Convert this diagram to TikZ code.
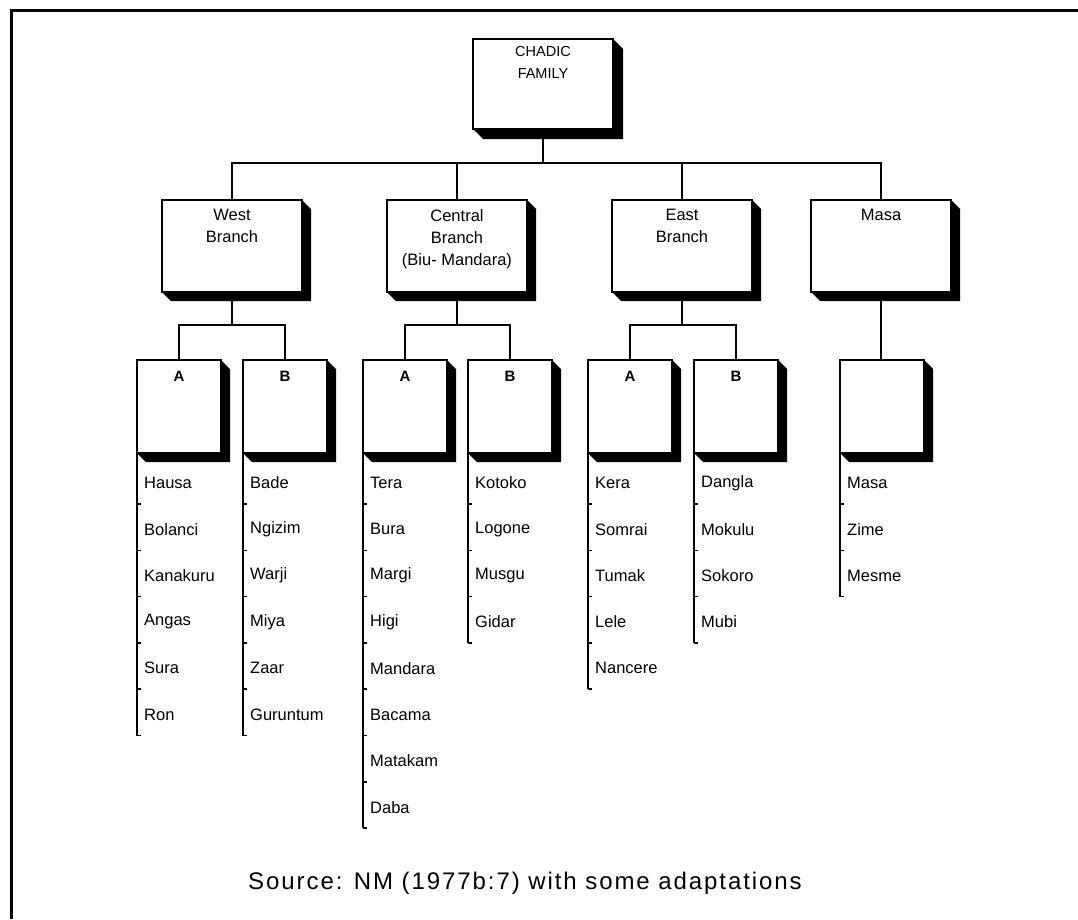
\documentclass[tikz,border=0pt]{standalone}
\usepackage{fontspec}
\setmainfont{Liberation Sans}
\newfontfamily\srcfont[LetterSpace=8]{Liberation Sans}
\usetikzlibrary{calc}
\newcommand\shad[2]{\fill (#1.north east) -- ($(#1.north east)+(#2,#2)$) -- ($(#1.south east)+(#2,#2)$) -- ($(#1.south west)+(#2,#2)$) -- (#1.south west) -- (#1.south east) -- cycle;}
\newcommand\langlist[3]{%
  \foreach \t [count=\i] in {#3} {
    \node[item] (#2\i) at ($(#1.south west)+(7,{30+46.3*(\i-1)})$) {\t};
    \coordinate (#2end) at ($(#1.south west)+(0,{30+46.3*(\i-1)+21})$);
    \draw[tick] (#2end) -- ++(4,0);
  }
  \draw[lst] (#1.south west) -- (#2end);
}
\begin{document}
\begin{tikzpicture}[x=1pt,y=-1pt,
  box/.style={draw,line width=2pt,fill=white,rectangle,inner sep=0pt,outer sep=0pt,anchor=north west},
  bigbox/.style={box,minimum width=140pt,minimum height=92pt},
  subbox/.style={box,minimum width=84pt,minimum height=93pt},
  conn/.style={line width=1.5pt},
  lst/.style={line width=2pt},
  tick/.style={line width=1.5pt},
  item/.style={anchor=west,inner sep=0pt,font=\fontsize{16.5}{19}\selectfont},
  boxtext/.style={anchor=north,align=center,inner sep=0pt,yshift=-9pt,font=\fontsize{16.5}{22}\selectfont},
  subtext/.style={anchor=north,inner sep=0pt,yshift=-11pt,font=\bfseries\fontsize{15}{18}\selectfont},
]
\useasboundingbox (0,0) rectangle (1078,919);
% frame
\draw[line width=3pt] (11,919) -- (11,10) -- (1078,10);

% root
\node[box,minimum width=140pt,minimum height=90pt,
  label={[boxtext,font=\fontsize{14.5}{22}\selectfont,yshift=2pt]north:{CHADIC\\FAMILY}}] (chadic) at (473,39) {};
\shad{chadic}{10}

% branches
\node[bigbox,label={[boxtext]north:{West\\Branch}}] (west) at (162,200) {};
\node[bigbox,label={[boxtext]north:{Central\\Branch\\(Biu- Mandara)}}] (central) at (387,200) {};
\node[bigbox,label={[boxtext]north:{East\\Branch}}] (east) at (612,200) {};
\node[bigbox,label={[boxtext]north:{Masa}}] (masa) at (811,200) {};
\foreach \b in {west,central,east,masa} {\shad{\b}{9}}

% sub boxes
\node[subbox,label={[subtext]north:A}] (wa) at (137,360) {};
\node[subbox,label={[subtext]north:B}] (wb) at (243,360) {};
\node[subbox,label={[subtext]north:A}] (ca) at (363,360) {};
\node[subbox,label={[subtext]north:B}] (cb) at (468,360) {};
\node[subbox,label={[subtext]north:A}] (ea) at (588,360) {};
\node[subbox,label={[subtext]north:B}] (eb) at (694,360) {};
\node[subbox] (ms) at (840,360) {};
\foreach \b in {wa,wb,ca,cb,ea,eb,ms} {\shad{\b}{9}}

% connectors
\coordinate (hbar) at (0,163);
\coordinate (hsub) at (0,325);
\draw[conn] (chadic.south) -- (chadic.south |- hbar);
\draw[conn] (west.north) -- (west.north |- hbar) -- (masa.north |- hbar) -- (masa.north);
\draw[conn] (central.north |- hbar) -- (central.north);
\draw[conn] (east.north |- hbar) -- (east.north);
\foreach \p/\l/\r in {west/wa/wb,central/ca/cb,east/ea/eb} {
  \draw[conn] (\p.south) -- (\p.south |- hsub);
  \draw[conn] (\l.north) -- (\l.north |- hsub) -- (\r.north |- hsub) -- (\r.north);
}
\draw[conn] (masa.south) -- (masa.south |- ms.north);

% lists
\langlist{wa}{wal}{Hausa,Bolanci,Kanakuru,Angas,Sura,Ron}
\langlist{wb}{wbl}{Bade,Ngizim,Warji,Miya,Zaar,Guruntum}
\langlist{ca}{cal}{Tera,Bura,Margi,Higi,Mandara,Bacama,Matakam,Daba}
\langlist{cb}{cbl}{Kotoko,Logone,Musgu,Gidar}
\langlist{ea}{eal}{Kera,Somrai,Tumak,Lele,Nancere}
\langlist{eb}{ebl}{Dangla,Mokulu,Sokoro,Mubi}
\langlist{ms}{msl}{Masa,Zime,Mesme}

% source
\node[inner sep=0pt,font=\srcfont\fontsize{24}{28}\selectfont] (src) at (525,883) {Source: NM (1977b:7) with some adaptations};
\end{tikzpicture}
\end{document}
